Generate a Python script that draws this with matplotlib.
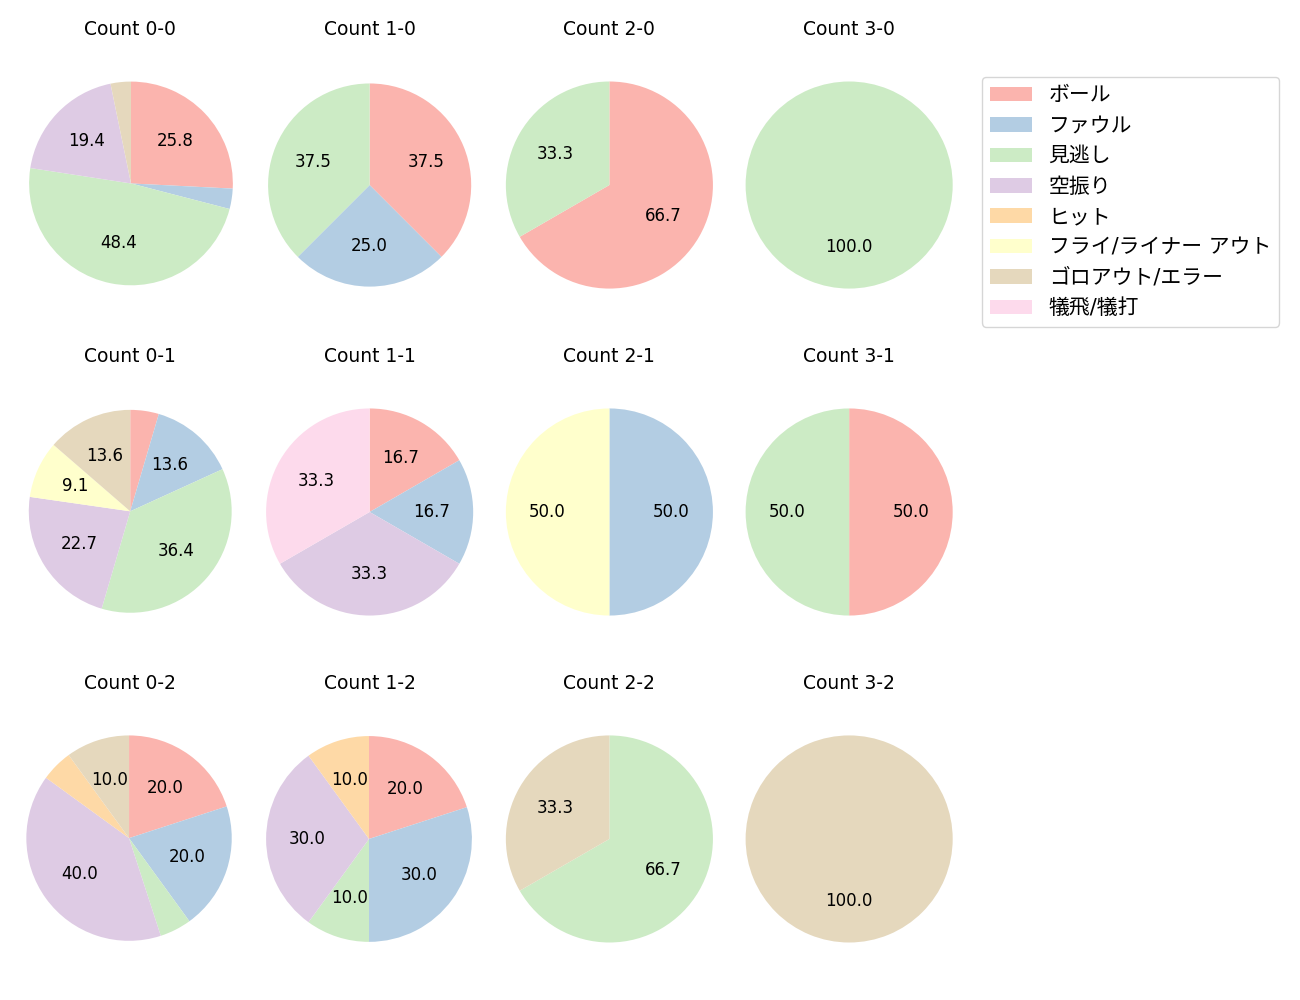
import matplotlib
matplotlib.use("Agg")
import matplotlib.pyplot as plt
import numpy as np
from matplotlib.patches import Patch

plt.rcParams['font.family'] = ['DejaVu Sans', 'Noto Sans CJK JP']
plt.rcParams['font.size'] = 12

categories = ['ボール', 'ファウル', '見逃し', '空振り', 'ヒット',
              'フライ/ライナー アウト', 'ゴロアウト/エラー', '犠飛/犠打']
colors = ['#fbb4ae', '#b3cde3', '#ccebc5', '#decbe4', '#fed9a6',
          '#ffffcc', '#e5d8bd', '#fddaec']

counts_0_0 = [8, 1, 15, 6, 0, 0, 1, 0]
counts_1_0 = [3, 2, 3, 0, 0, 0, 0, 0]
counts_2_0 = [2, 0, 1, 0, 0, 0, 0, 0]
counts_3_0 = [0, 0, 1, 0, 0, 0, 0, 0]
counts_0_1 = [1, 3, 8, 5, 0, 2, 3, 0]
counts_1_1 = [1, 1, 0, 2, 0, 0, 0, 2]
counts_2_1 = [0, 1, 0, 0, 0, 1, 0, 0]
counts_3_1 = [1, 0, 1, 0, 0, 0, 0, 0]
counts_0_2 = [4, 4, 1, 8, 1, 0, 2, 0]
counts_1_2 = [2, 3, 1, 3, 1, 0, 0, 0]
counts_2_2 = [0, 0, 2, 0, 0, 0, 1, 0]
counts_3_2 = [0, 0, 0, 0, 0, 0, 1, 0]

grid = [
    [('Count 0-0', counts_0_0), ('Count 1-0', counts_1_0), ('Count 2-0', counts_2_0), ('Count 3-0', counts_3_0)],
    [('Count 0-1', counts_0_1), ('Count 1-1', counts_1_1), ('Count 2-1', counts_2_1), ('Count 3-1', counts_3_1)],
    [('Count 0-2', counts_0_2), ('Count 1-2', counts_1_2), ('Count 2-2', counts_2_2), ('Count 3-2', counts_3_2)],
]

fig, axes = plt.subplots(3, 4, figsize=(13, 10), dpi=100)
fig.subplots_adjust(left=0.0123, right=0.7408, top=0.957, bottom=0.019,
                    wspace=0.0526, hspace=0.151)


def fmt(p):
    return f'{p:.1f}' if p >= 7 else ''


for r in range(3):
    for c in range(4):
        ax = axes[r][c]
        title, vals = grid[r][c]
        idx = [i for i, v in enumerate(vals) if v > 0]
        wedges, _, _ = ax.pie([vals[i] for i in idx], colors=[colors[i] for i in idx],
                              autopct=fmt, startangle=90, counterclock=False,
                              textprops={'fontsize': 12})
        # data limits from wedge path vertices (incl. bezier control points)
        for w in wedges:
            verts = w.get_patch_transform().transform(w.get_path().vertices)
            ax.dataLim.update_from_data_xy(verts, ignore=False)
        ax.axis('equal')
        ax.set_title(title, fontsize=13.5)

handles = [Patch(facecolor=col) for col in colors]
fig.legend(handles, categories, loc='upper left',
           bbox_to_anchor=(982 / 1300, 1 - 77 / 1000), borderaxespad=0,
           fontsize=15)

fig.savefig('out.png', dpi=100)
